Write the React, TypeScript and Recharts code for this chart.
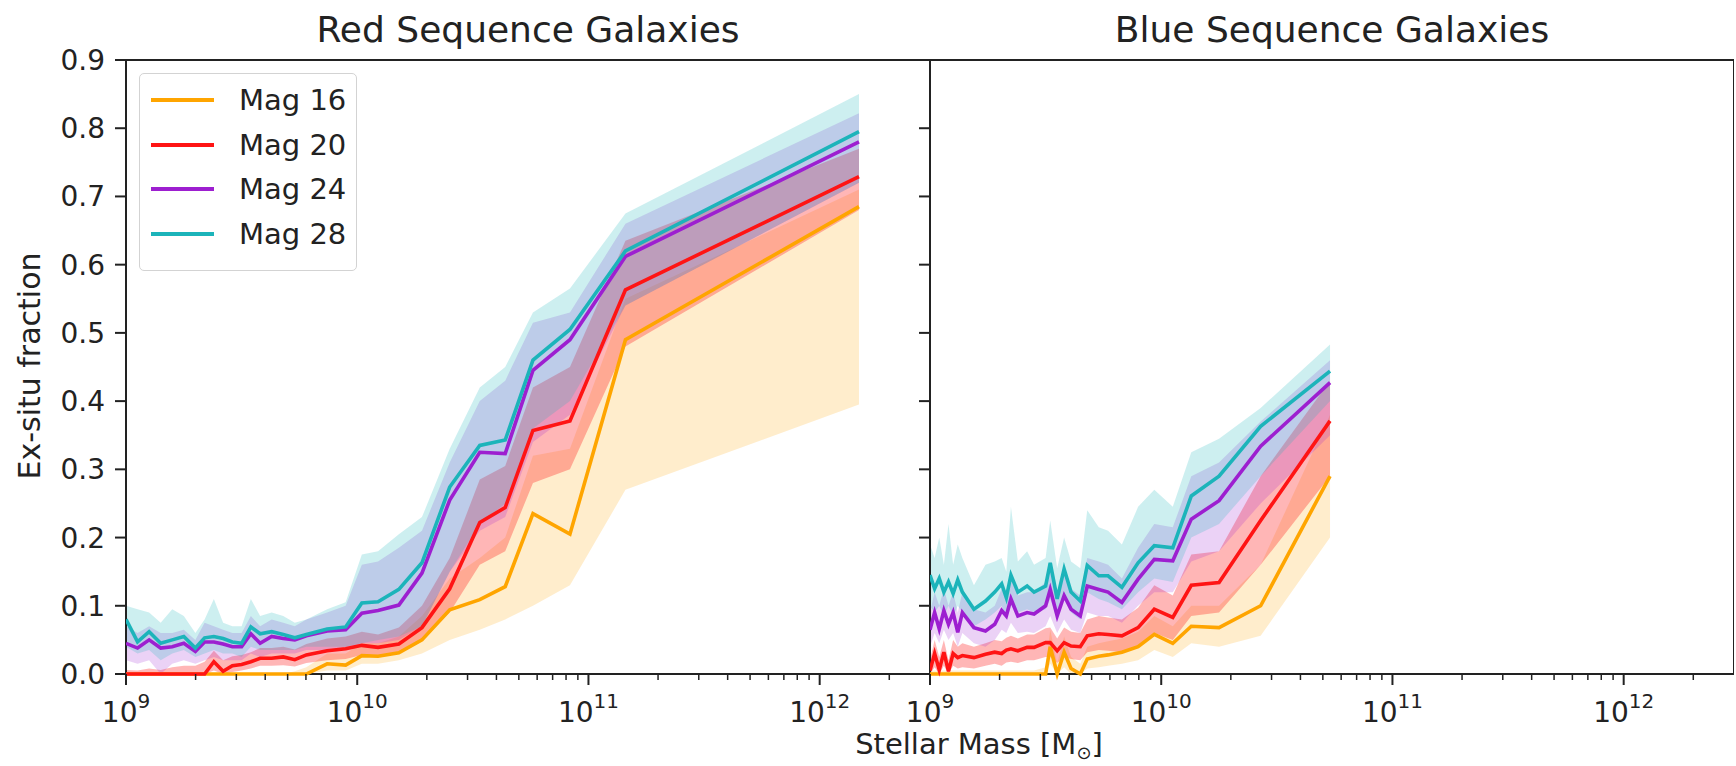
import { ComposedChart, Area, Line, XAxis, YAxis, ReferenceArea } from 'recharts';

// log10(M*/Msun) of each bin, red sequence panel
const redLogMass = [9.0, 9.05, 9.1, 9.15, 9.2, 9.25, 9.3, 9.34, 9.38, 9.42, 9.46, 9.5, 9.54, 9.58, 9.63, 9.68, 9.73, 9.78, 9.87, 9.95, 10.02, 10.09, 10.18, 10.28, 10.4, 10.53, 10.64, 10.76, 10.92, 11.16, 12.17];

const redMag16 = [0, 0, 0, 0, 0, 0, 0, 0, 0, 0, 0, 0, 0, 0, 0, 0, 0, 0, 0.015, 0.013, 0.027, 0.026, 0.031, 0.05, 0.094, 0.109, 0.128, 0.235, 0.205, 0.49, 0.685];
const redMag20 = [0, 0, 0, 0, 0, 0, 0, 0, 0.018, 0.004, 0.012, 0.014, 0.018, 0.023, 0.023, 0.025, 0.021, 0.028, 0.034, 0.037, 0.042, 0.039, 0.044, 0.068, 0.125, 0.222, 0.244, 0.357, 0.371, 0.563, 0.729];
const redMag24 = [0.045, 0.038, 0.05, 0.038, 0.04, 0.045, 0.033, 0.047, 0.047, 0.044, 0.04, 0.04, 0.059, 0.045, 0.055, 0.052, 0.05, 0.056, 0.063, 0.065, 0.089, 0.093, 0.101, 0.148, 0.255, 0.325, 0.323, 0.445, 0.49, 0.612, 0.78];
const redMag28 = [0.08, 0.047, 0.062, 0.045, 0.05, 0.055, 0.038, 0.053, 0.055, 0.052, 0.047, 0.045, 0.069, 0.059, 0.062, 0.058, 0.053, 0.058, 0.066, 0.069, 0.104, 0.106, 0.124, 0.163, 0.274, 0.335, 0.343, 0.46, 0.505, 0.62, 0.795];

const redMag16Lo = [0, 0, 0, 0, 0, 0, 0, 0, 0, 0, 0, 0, 0, 0, 0, 0, 0, 0, 0.005, 0.005, 0.015, 0.015, 0.02, 0.03, 0.05, 0.065, 0.08, 0.1, 0.13, 0.27, 0.395];
const redMag16Hi = [0, 0, 0, 0, 0, 0, 0, 0, 0, 0, 0, 0, 0, 0, 0, 0, 0.004, 0.01, 0.03, 0.03, 0.045, 0.045, 0.055, 0.085, 0.14, 0.17, 0.2, 0.32, 0.33, 0.55, 0.71];
const redMag20Lo = [0, 0, 0, 0, 0, 0, 0, 0, 0.005, 0, 0.003, 0.005, 0.008, 0.012, 0.012, 0.013, 0.011, 0.016, 0.02, 0.022, 0.028, 0.026, 0.03, 0.048, 0.09, 0.16, 0.18, 0.28, 0.3, 0.48, 0.68];
const redMag20Hi = [0.006, 0.005, 0.008, 0.006, 0.01, 0.012, 0.012, 0.018, 0.034, 0.02, 0.026, 0.028, 0.032, 0.038, 0.038, 0.04, 0.036, 0.044, 0.052, 0.055, 0.062, 0.058, 0.068, 0.1, 0.17, 0.285, 0.305, 0.42, 0.45, 0.635, 0.77];
const redMag24Lo = [0.02, 0.015, 0.02, 0, 0.015, 0.02, 0.015, 0.02, 0.025, 0.02, 0.02, 0.02, 0.03, 0.025, 0.03, 0.03, 0.03, 0.035, 0.035, 0.035, 0.045, 0.045, 0.05, 0.07, 0.15, 0.21, 0.23, 0.34, 0.38, 0.54, 0.72];
const redMag24Hi = [0.07, 0.06, 0.07, 0.06, 0.06, 0.065, 0.05, 0.075, 0.07, 0.065, 0.06, 0.06, 0.085, 0.07, 0.08, 0.075, 0.07, 0.08, 0.09, 0.1, 0.16, 0.165, 0.185, 0.21, 0.31, 0.4, 0.43, 0.515, 0.53, 0.66, 0.822];
const redMag28Lo = [0.04, 0.03, 0.035, 0.02, 0.03, 0.035, 0.025, 0.03, 0.035, 0.03, 0.03, 0.025, 0.04, 0.035, 0.035, 0.035, 0.035, 0.04, 0.04, 0.04, 0.045, 0.05, 0.055, 0.07, 0.15, 0.22, 0.25, 0.36, 0.4, 0.54, 0.72];
const redMag28Hi = [0.1, 0.095, 0.09, 0.075, 0.095, 0.085, 0.06, 0.08, 0.11, 0.075, 0.07, 0.07, 0.11, 0.085, 0.09, 0.085, 0.075, 0.08, 0.095, 0.105, 0.175, 0.18, 0.205, 0.23, 0.33, 0.42, 0.45, 0.53, 0.565, 0.675, 0.85];

// blue sequence panel
const blueLogMass = [9.0, 9.02, 9.04, 9.06, 9.08, 9.1, 9.12, 9.14, 9.19, 9.24, 9.28, 9.31, 9.33, 9.35, 9.38, 9.42, 9.45, 9.5, 9.52, 9.55, 9.58, 9.61, 9.65, 9.68, 9.73, 9.77, 9.83, 9.9, 9.97, 10.05, 10.13, 10.25, 10.43, 10.73];

const blueMag16 = [0, 0, 0, 0, 0, 0, 0, 0, 0, 0, 0, 0, 0, 0, 0, 0, 0, 0, 0.04, 0, 0.032, 0.008, 0, 0.022, 0.026, 0.028, 0.032, 0.04, 0.058, 0.045, 0.07, 0.068, 0.1, 0.29];
const blueMag20 = [0.005, 0.03, 0.006, 0.032, 0.004, 0.03, 0.024, 0.027, 0.024, 0.029, 0.032, 0.03, 0.035, 0.037, 0.034, 0.039, 0.039, 0.046, 0.046, 0.034, 0.046, 0.041, 0.04, 0.056, 0.059, 0.058, 0.056, 0.068, 0.095, 0.083, 0.13, 0.134, 0.225, 0.371];
const blueMag24 = [0.065, 0.09, 0.066, 0.093, 0.073, 0.09, 0.061, 0.09, 0.068, 0.063, 0.073, 0.093, 0.085, 0.11, 0.085, 0.09, 0.088, 0.1, 0.124, 0.085, 0.115, 0.095, 0.085, 0.129, 0.124, 0.12, 0.105, 0.139, 0.168, 0.166, 0.227, 0.254, 0.334, 0.427];
const blueMag28 = [0.145, 0.125, 0.14, 0.12, 0.135, 0.118, 0.138, 0.12, 0.095, 0.107, 0.12, 0.132, 0.112, 0.145, 0.12, 0.129, 0.12, 0.129, 0.163, 0.11, 0.154, 0.12, 0.107, 0.159, 0.144, 0.144, 0.127, 0.163, 0.188, 0.185, 0.261, 0.29, 0.363, 0.444];

const blueMag16Lo = [0, 0, 0, 0, 0, 0, 0, 0, 0, 0, 0, 0, 0, 0, 0, 0, 0, 0, 0.015, 0, 0.01, 0, 0, 0.008, 0.01, 0.012, 0.015, 0.02, 0.035, 0.025, 0.045, 0.04, 0.056, 0.2];
const blueMag16Hi = [0.005, 0.005, 0.005, 0.005, 0.005, 0.005, 0.005, 0.005, 0.005, 0.005, 0.005, 0.005, 0.005, 0.005, 0.005, 0.005, 0.005, 0.01, 0.065, 0.015, 0.055, 0.025, 0.015, 0.04, 0.045, 0.048, 0.052, 0.062, 0.085, 0.07, 0.1, 0.1, 0.16, 0.38];
const blueMag20Lo = [0, 0.01, 0, 0.012, 0, 0.012, 0.008, 0.01, 0.008, 0.012, 0.015, 0.012, 0.017, 0.018, 0.016, 0.02, 0.02, 0.025, 0.025, 0.016, 0.025, 0.022, 0.02, 0.032, 0.035, 0.034, 0.032, 0.04, 0.06, 0.05, 0.085, 0.09, 0.16, 0.29];
const blueMag20Hi = [0.02, 0.05, 0.025, 0.05, 0.02, 0.05, 0.04, 0.045, 0.04, 0.045, 0.05, 0.048, 0.053, 0.056, 0.052, 0.058, 0.058, 0.067, 0.068, 0.052, 0.068, 0.062, 0.06, 0.08, 0.085, 0.083, 0.08, 0.097, 0.13, 0.115, 0.175, 0.18, 0.29, 0.43];
const blueMag24Lo = [0.04, 0.06, 0.045, 0.065, 0.05, 0.06, 0.04, 0.06, 0.045, 0.04, 0.05, 0.065, 0.06, 0.075, 0.06, 0.062, 0.06, 0.07, 0.085, 0.06, 0.08, 0.065, 0.06, 0.09, 0.085, 0.085, 0.075, 0.1, 0.12, 0.12, 0.165, 0.18, 0.25, 0.35];
const blueMag24Hi = [0.09, 0.12, 0.1, 0.125, 0.1, 0.12, 0.09, 0.12, 0.095, 0.09, 0.1, 0.125, 0.115, 0.15, 0.115, 0.12, 0.12, 0.135, 0.165, 0.115, 0.155, 0.125, 0.115, 0.17, 0.165, 0.16, 0.14, 0.185, 0.22, 0.215, 0.29, 0.31, 0.37, 0.46];
const blueMag28Lo = [0.1, 0.09, 0.1, 0.085, 0.1, 0.085, 0.1, 0.09, 0.07, 0.08, 0.09, 0.1, 0.08, 0.1, 0.09, 0.095, 0.09, 0.095, 0.11, 0.08, 0.11, 0.09, 0.08, 0.12, 0.11, 0.105, 0.095, 0.12, 0.14, 0.135, 0.2, 0.22, 0.29, 0.4];
const blueMag28Hi = [0.19, 0.17, 0.2, 0.16, 0.22, 0.16, 0.19, 0.17, 0.13, 0.16, 0.165, 0.17, 0.15, 0.245, 0.165, 0.18, 0.16, 0.17, 0.225, 0.155, 0.2, 0.165, 0.155, 0.24, 0.215, 0.21, 0.19, 0.245, 0.27, 0.245, 0.325, 0.345, 0.39, 0.483];

const yTicks = [0, 0.1, 0.2, 0.3, 0.4, 0.5, 0.6, 0.7, 0.8, 0.9];
const xMajorTicks = [1e9, 1e10, 1e11, 1e12];
const xMinorTicks = [
  2e9, 3e9, 4e9, 5e9, 6e9, 7e9, 8e9, 9e9,
  2e10, 3e10, 4e10, 5e10, 6e10, 7e10, 8e10, 9e10,
  2e11, 3e11, 4e11, 5e11, 6e11, 7e11, 8e11, 9e11,
  2e12,
];
const xTicks = [...xMajorTicks, ...xMinorTicks];
const X_DOMAIN = [1e9, 3e12];

const SERIES = [
  { key: 'mag16', name: 'Mag 16', color: '#ffa500', band: 0.2 },
  { key: 'mag20', name: 'Mag 20', color: '#ff1414', band: 0.31 },
  { key: 'mag24', name: 'Mag 24', color: '#9d1fd0', band: 0.2 },
  { key: 'mag28', name: 'Mag 28', color: '#1cb4ba', band: 0.22 },
];

const FONT = '"DejaVu Sans", sans-serif';
const INK = '#222';
const TICK_FONT = 28;

function buildRows(logMass: number[], lines: number[][], lows: number[][], highs: number[][]) {
  return logMass.map((lm, i) => {
    const row: Record<string, any> = { mass: Math.pow(10, lm) };
    SERIES.forEach((s, k) => {
      row[s.key] = lines[k][i];
      row[s.key + 'Band'] = [lows[k][i], highs[k][i]];
    });
    return row;
  });
}

const redRows = buildRows(
  redLogMass,
  [redMag16, redMag20, redMag24, redMag28],
  [redMag16Lo, redMag20Lo, redMag24Lo, redMag28Lo],
  [redMag16Hi, redMag20Hi, redMag24Hi, redMag28Hi],
);
const blueRows = buildRows(
  blueLogMass,
  [blueMag16, blueMag20, blueMag24, blueMag28],
  [blueMag16Lo, blueMag20Lo, blueMag24Lo, blueMag28Lo],
  [blueMag16Hi, blueMag20Hi, blueMag24Hi, blueMag28Hi],
);

const MassTick = (props: any) => {
  const { x, y, payload } = props;
  const lg = Math.log10(payload.value);
  const exp = Math.round(lg);
  const major = Math.abs(lg - exp) < 1e-6;
  return (
    <g>
      <line x1={x} x2={x} y1={y} y2={y + (major ? 11 : 6)} stroke={INK} strokeWidth={major ? 2 : 1.5} />
      {major && (
        <text x={x} y={y + 48} textAnchor="middle" fontFamily={FONT} fontSize={TICK_FONT} fill={INK}>
          10<tspan dy={-14} fontSize={20}>{exp}</tspan>
        </text>
      )}
    </g>
  );
};

const FracTick = (props: any) => {
  const { x, y, payload, showLabel } = props;
  return (
    <g>
      <line x1={x - 11} x2={x} y1={y} y2={y} stroke={INK} strokeWidth={2} />
      {showLabel && (
        <text x={x - 21} y={y + 10} textAnchor="end" fontFamily={FONT} fontSize={TICK_FONT} fill={INK}>
          {payload.value.toFixed(1)}
        </text>
      )}
    </g>
  );
};

function Panel({ rows, left, showYLabels }: { rows: any[]; left: number; showYLabels: boolean }) {
  return (
    <div style={{ position: 'absolute', left, top: 0 }}>
      <ComposedChart width={930} height={766} data={rows} margin={{ top: 60, right: 0, bottom: 0, left: 0 }}>
        <XAxis
          dataKey="mass"
          type="number"
          scale="log"
          domain={X_DOMAIN}
          allowDataOverflow
          ticks={xTicks}
          interval={0}
          tick={<MassTick />}
          tickLine={false}
          axisLine={false}
          tickSize={0}
          tickMargin={0}
          height={92}
        />
        <YAxis
          type="number"
          domain={[0, 0.9]}
          ticks={yTicks}
          interval={0}
          tick={<FracTick showLabel={showYLabels} />}
          tickLine={false}
          axisLine={false}
          tickSize={0}
          tickMargin={0}
          width={126}
        />
        {SERIES.map((s) => (
          <Area
            key={s.key + 'Band'}
            dataKey={s.key + 'Band'}
            type="linear"
            stroke="none"
            fill={s.color}
            fillOpacity={s.band}
            legendType="none"
            isAnimationActive={false}
          />
        ))}
        {SERIES.map((s) => (
          <Line
            key={s.key}
            dataKey={s.key}
            name={s.name}
            type="linear"
            stroke={s.color}
            strokeWidth={3.6}
            dot={false}
            isAnimationActive={false}
          />
        ))}
        <ReferenceArea x1={X_DOMAIN[0]} x2={X_DOMAIN[1]} y1={0} y2={0.9} fill="none" stroke={INK} strokeWidth={2} />
      </ComposedChart>
    </div>
  );
}

function LegendBox() {
  return (
    <div
      style={{
        position: 'absolute',
        left: 139,
        top: 73,
        width: 216,
        height: 196,
        border: '1.5px solid #d3d3d3',
        borderRadius: 5,
        background: 'rgba(255,255,255,0.85)',
        fontFamily: FONT,
        fontSize: 29,
        color: INK,
      }}
    >
      {SERIES.map((s, i) => (
        <div key={s.key} style={{ position: 'absolute', left: 0, top: 8 + i * 44.5, height: 36, width: '100%' }}>
          <div style={{ position: 'absolute', left: 11, top: 16, width: 63, height: 4, background: s.color }} />
          <span style={{ position: 'absolute', left: 99, top: 0, lineHeight: '36px', whiteSpace: 'nowrap' }}>
            {s.name}
          </span>
        </div>
      ))}
    </div>
  );
}

export default function App() {
  return (
    <div style={{ position: 'relative', width: 1736, height: 766, background: '#fff', overflow: 'hidden' }}>
      <style>{'body{margin:0}'}</style>
      <Panel rows={redRows} left={0} showYLabels />
      <Panel rows={blueRows} left={804} showYLabels={false} />
      <LegendBox />
      <svg width={1736} height={766} style={{ position: 'absolute', left: 0, top: 0, pointerEvents: 'none' }}>
        <g fontFamily={FONT} fill={INK}>
          <text x={528} y={42} textAnchor="middle" fontSize={36}>
            Red Sequence Galaxies
          </text>
          <text x={1332} y={42} textAnchor="middle" fontSize={36}>
            Blue Sequence Galaxies
          </text>
          <text x={979} y={754} textAnchor="middle" fontSize={29}>
            Stellar Mass [M<tspan dy={5} fontSize={18}>⊙</tspan><tspan dy={-5}>]</tspan>
          </text>
          <text transform="translate(40,366) rotate(-90)" textAnchor="middle" fontSize={30}>
            Ex-situ fraction
          </text>
        </g>
      </svg>
    </div>
  );
}
